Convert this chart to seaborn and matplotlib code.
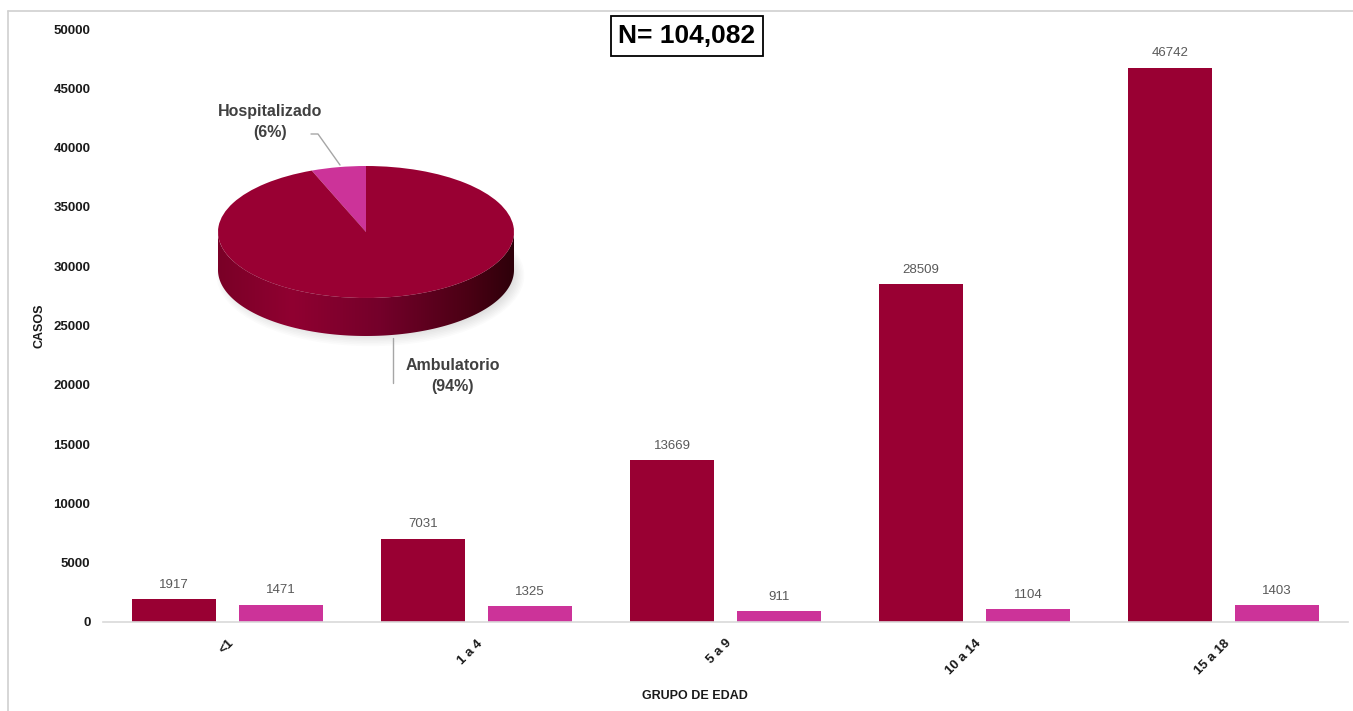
import numpy as np
import pandas as pd
import seaborn as sns
import matplotlib.pyplot as plt
import matplotlib.colors as mcolors
from matplotlib.patches import Polygon, Ellipse

# Cases by age group and type of care
grupos = ["<1", "1 a 4", "5 a 9", "10 a 14", "15 a 18"]
ambulatorio = [1917, 7031, 13669, 28509, 46742]
hospitalizado = [1471, 1325, 911, 1104, 1403]
tipos = ["Ambulatorio", "Hospitalizado"]
y_ticks = list(range(0, 50001, 5000))

DARK = "#990033"
PINK = "#CC3399"
W, H = 1353, 711

sns.set_theme(style="white")
plt.rcParams["font.family"] = ["Liberation Sans", "DejaVu Sans"]

fig = plt.figure(figsize=(W / 100, H / 100), dpi=100)
fig.patch.set_facecolor("white")

# ---- main bar chart ----
ax = fig.add_axes([103 / W, 1 - 622 / H, (1348 - 103) / W, (622 - 29) / H])
df = pd.DataFrame({
    "grupo": grupos * 2,
    "tipo": [tipos[0]] * len(grupos) + [tipos[1]] * len(grupos),
    "casos": ambulatorio + hospitalizado,
})
sns.barplot(data=df, x="grupo", y="casos", hue="tipo", order=grupos,
            hue_order=tipos, palette=[DARK, PINK], saturation=1,
            width=0.86, gap=0.22, errorbar=None, legend=False,
            linewidth=0, ax=ax)

for cont in ax.containers:
    ax.bar_label(cont, fmt="{:.0f}", padding=6, fontsize=9.5, color="#595959")

ax.set_xlim(-0.5, len(grupos) - 0.5)
ax.set_ylim(0, 50000)
ax.set_yticks(y_ticks)
ax.set_yticklabels([str(v) for v in y_ticks], fontsize=9.5, fontweight="bold",
                   color="#1a1a1a")
ax.set_xticks(range(len(grupos)))
ax.set_xticklabels(grupos, rotation=45, ha="right", rotation_mode="anchor",
                   fontsize=9.5, fontweight="bold", color="#1a1a1a")
ax.tick_params(axis="both", length=0)
ax.tick_params(axis="y", pad=9)
ax.tick_params(axis="x", pad=11)
for s in ["top", "right", "left"]:
    ax.spines[s].set_visible(False)
ax.spines["bottom"].set_color("#d9d9d9")
ax.spines["bottom"].set_linewidth(1.2)

ax.set_ylabel("CASOS", fontsize=9, fontweight="bold", color="#1a1a1a")
ax.yaxis.set_label_coords(-0.0458, 0.5)
ax.set_xlabel("GRUPO DE EDAD", fontsize=9, fontweight="bold", color="#1a1a1a")
ax.xaxis.set_label_coords(0.4755, -0.115)

# ---- 3D-style pie of type of care ----
total_amb = sum(ambulatorio)
total_hosp = sum(hospitalizado)
total = total_amb + total_hosp

rx_px, ry_px, depth_px = 148, 66, 38
cx_px, cy_px = 366, 232
pl, pr, pt, pb = cx_px - 160, cx_px + 160, cy_px - 80, cy_px + ry_px + depth_px + 24
axp = fig.add_axes([pl / W, 1 - pb / H, (pr - pl) / W, (pb - pt) / H])
axp.pie([total_hosp, total_amb], colors=[PINK, DARK], startangle=90,
        counterclock=True, radius=1, wedgeprops=dict(linewidth=0, zorder=3))
axp.set_aspect("auto")
xlo, xhi = -(cx_px - pl) / rx_px, (pr - cx_px) / rx_px
ylo, yhi = -(pb - cy_px) / ry_px, (cy_px - pt) / ry_px
axp.axis("off")

d = depth_px / ry_px
# soft drop shadow under the disc
for k in range(10):
    axp.add_patch(Ellipse((0.03, -d - 0.08), 1.90 + 0.02 * k, 1.7 + 0.05 * k,
                          facecolor="#000000", alpha=0.014, linewidth=0, zorder=0.5))

# side wall: horizontal gradient clipped to the front rim
th = np.linspace(np.pi, 2 * np.pi, 200)
upper = np.column_stack([np.cos(th), np.sin(th)])
lower = np.column_stack([np.cos(th[::-1]), np.sin(th[::-1]) - d])
side = Polygon(np.vstack([upper, lower]), closed=True, facecolor="none",
               edgecolor="none", transform=axp.transData)
axp.add_patch(side)
side_cmap = mcolors.LinearSegmentedColormap.from_list(
    "side", [(0.0, "#7a0027"), (0.25, "#900031"), (0.55, "#74002a"),
             (0.85, "#4a0014"), (1.0, "#2e000a")])
grad = np.linspace(0, 1, 256)[None, :]
img = axp.imshow(grad, cmap=side_cmap, extent=[-1, 1, -1 - d, 0.05],
                 aspect="auto", zorder=1, interpolation="bilinear")
img.set_clip_path(side)
axp.set_xlim(xlo, xhi)
axp.set_ylim(ylo, yhi)

# ---- overlay: labels, leader lines, title box, frame ----
ov = fig.add_axes([0, 0, 1, 1], zorder=10)
ov.set_xlim(0, W)
ov.set_ylim(H, 0)
ov.axis("off")
ov.patch.set_alpha(0)

ov.plot([8, 8], [11, H], color="#d0d0d0", lw=1.2)
ov.plot([8, W], [11, 11], color="#d0d0d0", lw=1.2)

pct_h = round(100 * total_hosp / total)
pct_a = round(100 * total_amb / total)
ov.plot([311, 318, 340], [134, 134, 165], color="#a6a6a6", lw=1)
ov.text(270, 122, f"Hospitalizado\n({pct_h}%)", ha="center", va="center",
        fontsize=11.5, fontweight="bold", color="#404040", linespacing=1.55)
ov.plot([393, 393], [338, 383], color="#a6a6a6", lw=1)
ov.text(453, 376, f"Ambulatorio\n({pct_a}%)", ha="center", va="center",
        fontsize=11.5, fontweight="bold", color="#404040", linespacing=1.55)

ov.text(687, 36, f"N= {total:,}", ha="center", va="center", fontsize=19,
        fontweight="bold", color="black",
        bbox=dict(boxstyle="square,pad=0.3", facecolor="white",
                  edgecolor="black", linewidth=1.3))

fig.savefig("out.png", dpi=100)
